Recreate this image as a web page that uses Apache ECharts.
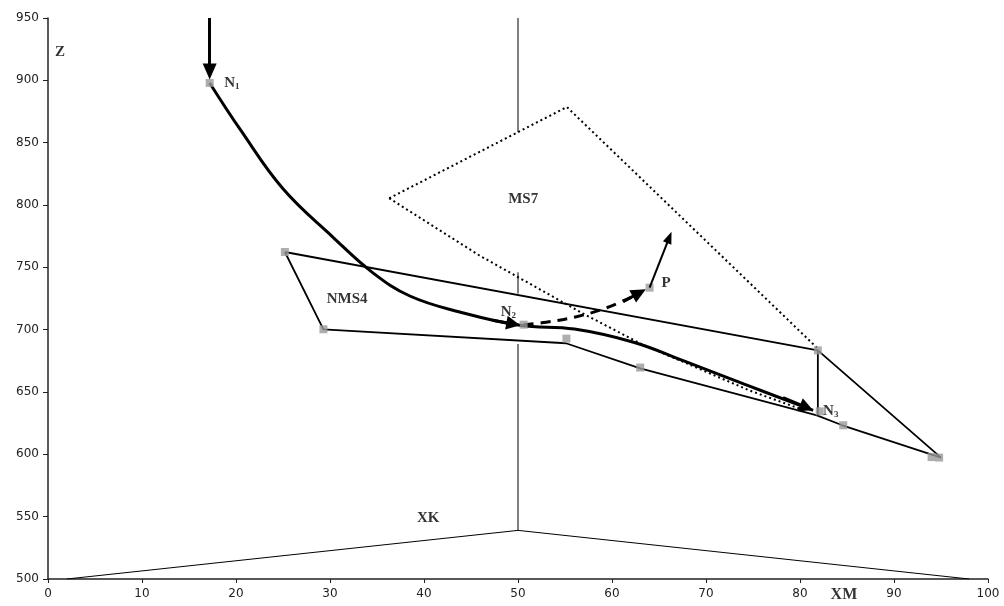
<!DOCTYPE html>
<html>
<head>
<meta charset="utf-8">
<script src="https://cdn.jsdelivr.net/npm/echarts@6/dist/echarts.min.js"></script>
<style>
html, body { margin: 0; padding: 0; background: #fff; }
#main { width: 1004px; height: 606px; }
</style>
</head>
<body>
<div id="main"></div>
<script>
// XM / Z cross-section data
var xkLine = [[2, 500], [50, 539], [98, 500]];
var wallTop = [[50, 950], [50, 858.5]];
var wallMid = [[50, 746], [50, 729]];
var wallBottom = [[50, 688.5], [50, 539]];

var ms7Upper = [[36.3, 805.4], [55.2, 878.6], [81.9, 684.8]];
var ms7Lower = [[36.3, 805.4], [45.9, 759.5], [56.9, 713], [63, 689], [74.6, 651.3], [80.5, 635.2]];

var nms4Upper = [[25.2, 762.3], [81.9, 683.4], [95, 597.4]];
var nms4Lower = [[25.2, 762.3], [29.3, 700.3], [55.1, 689.1], [63, 669], [81.8, 631.3], [84.5, 623.3], [95, 597.4]];
var nms4Side = [[81.9, 683.4], [81.9, 631.3]];
var vertexMarks = [[25.2, 762.3], [29.3, 700.3], [55.15, 692.8], [63, 669.6], [81.9, 683.4], [84.6, 623.3], [94, 597.8], [94.8, 597.4]];

var trajectory = [[17.2, 897.9], [20.5, 860], [25, 813], [30.3, 774.3], [34.5, 746],
  [38.5, 727], [43.8, 714.2], [50.2, 703.5], [56, 700.5], [62.2, 690.1], [67.5, 675.4],
  [74, 656.5], [81.4, 635.3]];
var dashedPath = [[50.6, 704], [53, 706], [56, 710], [59.4, 717.5], [62.9, 729]];
var nodeMarks = [[17.2, 897.9], [50.6, 704], [82.1, 634.5], [64, 733.7]];

// arrows: [from, to]
var arrowTop = [[17.2, 950], [17.2, 907]];
var arrowN2 = [[47.3, 707.6], [49.5, 704.6]];
var arrowN3 = [[78.2, 645.5], [80.7, 637.6]];
var arrowDash = [[61.2, 722.5], [62.9, 729.6]];
var arrowP = [[64, 733.7], [66.1, 774]];

// labels: [x, y, text]
var labels = [
  [0.7, 922.5, '{b|Z}'],
  [18.7, 897.6, '{n|N}{s|1}'],
  [48.1, 714.3, '{n|N}{s|2}'],
  [82.4, 634.6, '{n|N}{s|3}'],
  [65.2, 737.2, '{b|P}'],
  [29.6, 724.4, '{b|NMS4}'],
  [48.9, 805, '{b|MS7}'],
  [39.2, 549, '{b|XK}'],
  [83.2, 487, '{x|XM}']
];

var chart = echarts.init(document.getElementById('main'));

function thinLine(name, data, width, type) {
  return {
    name: name, type: 'line', data: data, symbol: 'none', silent: true,
    lineStyle: { color: '#000', width: width, type: type || 'solid' },
    z: 2
  };
}

function arrowItem(seg, size, width) {
  return [
    { coord: seg[0], symbol: 'none' },
    { coord: seg[1], symbol: 'triangle', symbolSize: size, lineStyle: { color: '#000', width: width, type: 'solid' } }
  ];
}

var serif = 'Liberation Serif';

var option = {
  animation: false,
  backgroundColor: '#fff',
  grid: { left: 48, right: 16, top: 18, bottom: 27 },
  xAxis: {
    type: 'value', min: 0, max: 100, interval: 10,
    axisLine: { lineStyle: { color: '#222', width: 1.5 } },
    axisTick: { show: true, length: 4, lineStyle: { color: '#222' } },
    axisLabel: { color: '#222', fontFamily: 'DejaVu Sans', fontSize: 12, margin: 9 },
    splitLine: { show: false }
  },
  yAxis: {
    type: 'value', min: 500, max: 950, interval: 50,
    axisLine: { show: true, lineStyle: { color: '#222', width: 1.5 } },
    axisTick: { show: true, length: 5, lineStyle: { color: '#222' } },
    axisLabel: { color: '#222', fontFamily: 'DejaVu Sans', fontSize: 12, margin: 9 },
    splitLine: { show: false }
  },
  series: [
    thinLine('XK', xkLine, 1),
    thinLine('wallTop', wallTop, 1),
    thinLine('wallMid', wallMid, 1),
    thinLine('wallBottom', wallBottom, 1),
    thinLine('MS7 upper', ms7Upper, 2, [2, 3]),
    thinLine('MS7 lower', ms7Lower, 2, [2, 3]),
    thinLine('NMS4 upper', nms4Upper, 1.8),
    thinLine('NMS4 lower', nms4Lower, 1.8),
    thinLine('NMS4 side', nms4Side, 1.8),
    {
      name: 'trajectory', type: 'line', data: trajectory, symbol: 'none', smooth: 0.4, silent: true,
      lineStyle: { color: '#000', width: 3 }, z: 3,
      markLine: {
        silent: true, animation: false,
        label: { show: false },
        lineStyle: { color: '#000', width: 3, type: 'solid' },
        data: [
          arrowItem(arrowTop, [14, 16], 3),
          arrowItem(arrowN2, [14, 14], 3),
          arrowItem(arrowN3, [14, 14], 3),
          arrowItem(arrowDash, [14, 15], 3),
          arrowItem(arrowP, [9, 12], 2)
        ]
      }
    },
    {
      name: 'dashed', type: 'line', data: dashedPath, symbol: 'none', smooth: 0.4, silent: true,
      lineStyle: { color: '#000', width: 3, type: [10, 7] }, z: 3
    },
    {
      name: 'vertices', type: 'scatter', data: vertexMarks.concat(nodeMarks), symbol: 'rect', symbolSize: 8,
      itemStyle: { color: '#9a9a9a' }, z: 4, silent: true
    },
    {
      name: 'labels', type: 'scatter', data: labels, symbolSize: 1, clip: false, silent: true,
      itemStyle: { color: 'rgba(0,0,0,0)' }, z: 5,
      label: {
        show: true, position: 'right', distance: 0,
        formatter: function (p) { return p.data[2]; },
        rich: {
          b: { fontFamily: serif, fontWeight: 'bold', fontSize: 15, color: '#000' },
          x: { fontFamily: serif, fontWeight: 'bold', fontSize: 16, color: '#000' },
          n: { fontFamily: serif, fontWeight: 'bold', fontSize: 15, color: '#000', lineHeight: 16 },
          s: { fontFamily: serif, fontWeight: 'bold', fontSize: 9, color: '#000', lineHeight: 9, verticalAlign: 'bottom' }
        }
      }
    }
  ]
};
chart.setOption(option);
</script>
</body>
</html>
